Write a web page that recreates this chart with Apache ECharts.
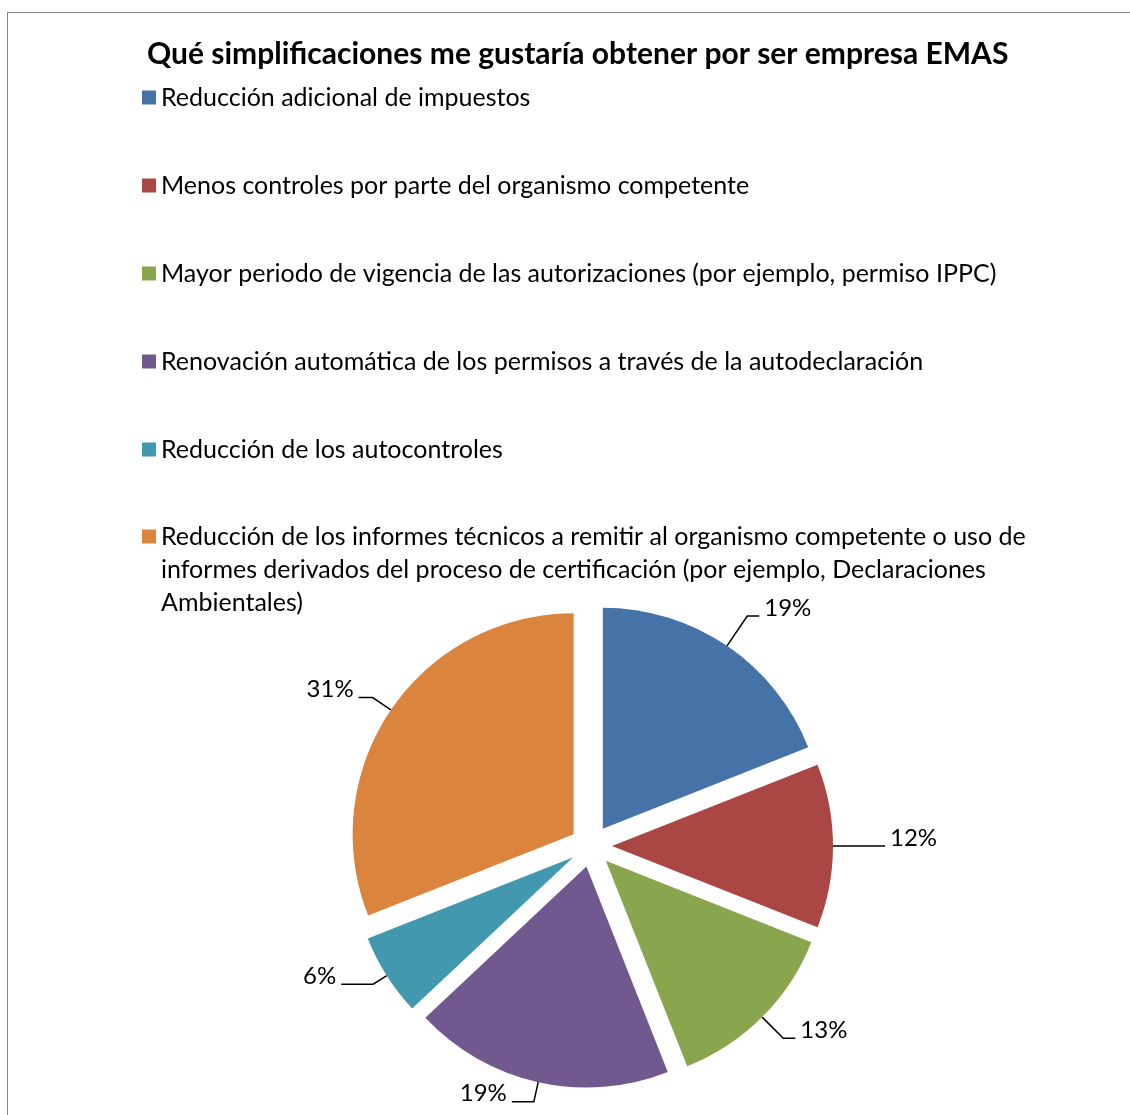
<!DOCTYPE html>
<html>
<head>
<meta charset="utf-8">
<script src="https://cdn.jsdelivr.net/npm/echarts@6/dist/echarts.min.js"></script>
<style>
    html, body { margin: 0; padding: 0; overflow: hidden; background: #fff; }
    #frame { position: absolute; left: 7px; top: 12px; width: 1300px; height: 1300px; border: 1px solid #868686; }
    #main { position: absolute; left: 0; top: 0; width: 1130px; height: 1115px; }
</style>
</head>
<body>
<div id="frame"></div>
<div id="main"></div>
<script>
// categorias (la ultima ocupa tres lineas en la leyenda)
var categories = [
    'Reducción adicional de impuestos',
    'Menos controles por parte del organismo competente',
    'Mayor periodo de vigencia de las autorizaciones (por ejemplo, permiso IPPC)',
    'Renovación automática de los permisos a través de la autodeclaración',
    'Reducción de los autocontroles',
    'Reducción de los informes técnicos a remitir al organismo competente o uso de\ninformes derivados del proceso de certificación (por ejemplo, Declaraciones\nAmbientales)'
];
var values = [19, 12, 13, 19, 6, 31];   // %

var colors = ['#4572A7', '#AA4643', '#89A54E', '#71588F', '#4198AF', '#DB843D'];
var lineLen = [36, 40, 30, 20, 16, 22];
var lineLen2 = [12, 12, 12, 22, 32, 14];

var font = 'Lato, "Open Sans", sans-serif';

var chart = echarts.init(document.getElementById('main'));

var pieData = values.map(function (v, i) {
    return {
        name: categories[i],
        value: v,
        selected: true,
        itemStyle: { color: colors[i] },
        labelLine: { length: lineLen[i], length2: lineLen2[i] }
    };
});

var legendText = { fontFamily: font, fontSize: 25, lineHeight: 33, color: '#000' };

var option = {
    animation: false,
    backgroundColor: 'transparent',
    title: {
        text: 'Qué simplificaciones me gustaría obtener por ser empresa EMAS',
        left: 147,
        top: 39,
        padding: 0,
        textStyle: { fontFamily: font, fontWeight: 'bold', fontSize: 30, color: '#000' }
    },
    legend: [{
        // los cinco primeros
        orient: 'vertical',
        left: 142,
        top: 81,
        padding: 0,
        itemGap: 55,
        itemWidth: 14,
        itemHeight: 14,
        icon: 'rect',
        selectedMode: false,
        data: categories.slice(0, 5),
        textStyle: legendText
    }, {
        // el largo, icono alineado con la primera linea
        orient: 'vertical',
        left: 142,
        top: 454,
        padding: 0,
        itemWidth: 14,
        itemHeight: 14,
        icon: 'rect',
        selectedMode: false,
        data: categories.slice(5),
        formatter: function (name) { return '\n\n' + name; },
        textStyle: legendText
    }],
    series: [{
        type: 'pie',
        center: [591, 846],
        radius: 221,
        startAngle: 90,
        selectedMode: 'multiple',
        selectedOffset: 21,
        avoidLabelOverlap: false,
        percentPrecision: 0,
        data: pieData,
        itemStyle: { borderWidth: 0 },
        label: {
            show: true,
            formatter: '{d}%',
            fontFamily: font,
            fontSize: 24,
            color: '#000'
        },
        labelLine: {
            show: true,
            lineStyle: { color: '#000', width: 1.5 }
        },
        labelLayout: { dy: -8 },
        emphasis: { disabled: true }
    }]
};
chart.setOption(option);
</script>
</body>
</html>
